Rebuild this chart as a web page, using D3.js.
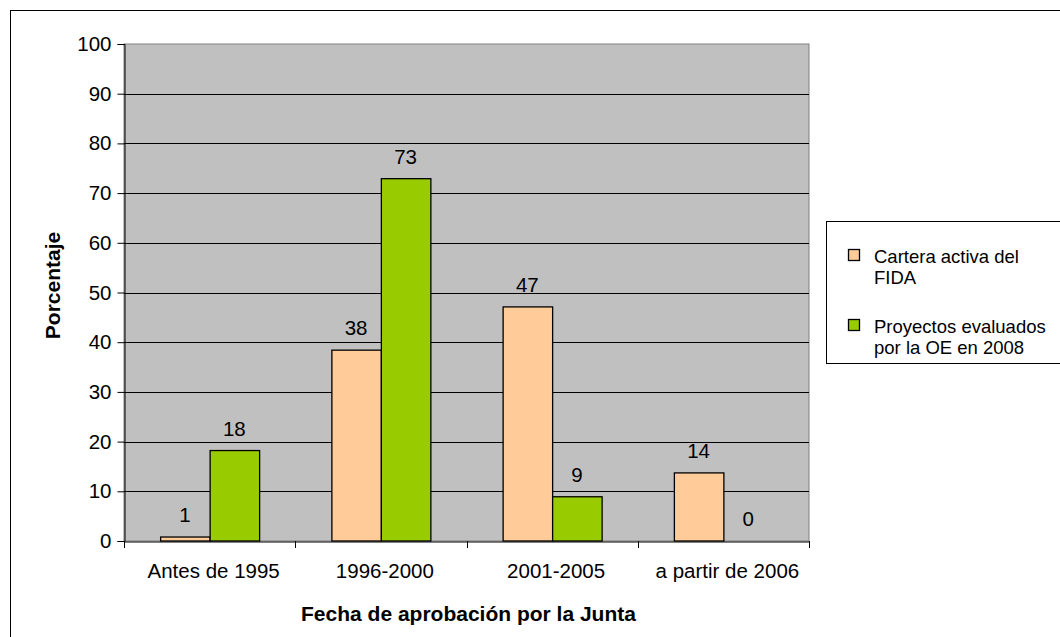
<!DOCTYPE html>
<html>
<head>
<meta charset="utf-8">
<script src="https://cdn.jsdelivr.net/npm/d3@7"></script>
<style>
  html, body { margin: 0; padding: 0; background: #fff; }
  svg { display: block; font-family: "Liberation Sans", Arial, sans-serif; }
</style>
</head>
<body>
<div id="chart"></div>
<script>
const categories = ["Antes de 1995", "1996-2000", "2001-2005", "a partir de 2006"];
const seriesNames = ["Cartera activa del FIDA", "Proyectos evaluados por la OE en 2008"];
const legendLines = [["Cartera activa del", "FIDA"], ["Proyectos evaluados", "por la OE en 2008"]];
const carteraValues = [0.8, 38.4, 47.1, 13.7];
const evaluadosValues = [18.2, 72.9, 8.9, 0];
const yTicks = [0, 10, 20, 30, 40, 50, 60, 70, 80, 90, 100];
const colors = ["#FFCC99", "#99CC00"];
const yTitle = "Porcentaje";
const xTitle = "Fecha de aprobación por la Junta";

const W = 1060, H = 637;
const plot = { left: 124, right: 809, top: 44, bottom: 541 };
const FS = "20.5px";

const svg = d3.select("#chart").append("svg").attr("width", W).attr("height", H);

// outer frame
svg.append("rect").attr("x", 10.5).attr("y", 10.5).attr("width", W + 20).attr("height", H + 20)
  .attr("fill", "#fff").attr("stroke", "#000").attr("stroke-width", 1);

const x0 = d3.scaleBand().domain(categories).range([plot.left, plot.right]).padding(0);
const x1 = d3.scaleBand().domain(seriesNames).range([0, x0.bandwidth()]).paddingInner(0).paddingOuter(0.73);
const y = d3.scaleLinear().domain([0, 100]).range([plot.bottom, plot.top]);

// plot background
svg.append("rect").attr("x", plot.left).attr("y", plot.top)
  .attr("width", plot.right - plot.left).attr("height", plot.bottom - plot.top)
  .attr("fill", "#C0C0C0").attr("stroke", "#808080").attr("stroke-width", 1);

// gridlines
svg.append("g").selectAll("line").data(yTicks.filter(t => t > 0 && t < 100)).join("line")
  .attr("x1", plot.left).attr("x2", plot.right)
  .attr("y1", d => Math.round(y(d)) + 0.5).attr("y2", d => Math.round(y(d)) + 0.5)
  .attr("stroke", "#000").attr("stroke-width", 1);

// y axis
const yAxis = svg.append("g").attr("transform", `translate(${plot.left + 0.5},0)`)
  .call(d3.axisLeft(y).tickValues(yTicks).tickSize(7).tickPadding(6).tickFormat(d3.format("d")));
yAxis.select(".domain").attr("stroke", "#000");
yAxis.selectAll(".tick line").attr("stroke", "#000");
yAxis.selectAll("text").attr("font-size", FS).attr("fill", "#000")
  .attr("font-family", "Liberation Sans, Arial, sans-serif");

// bars
const data = categories.map((c, i) => ({ cat: c, vals: [carteraValues[i], evaluadosValues[i]] }));
const groups = svg.append("g").selectAll("g").data(data).join("g")
  .attr("transform", d => `translate(${x0(d.cat)},0)`);
groups.selectAll("rect").data(d => d.vals.map((v, j) => ({ v, s: seriesNames[j], j })))
  .join("rect")
  .filter(d => d.v > 0)
  .attr("x", d => x1(d.s) + 0.5)
  .attr("y", d => y(d.v))
  .attr("width", x1.bandwidth())
  .attr("height", d => y(0) - y(d.v))
  .attr("fill", d => colors[d.j])
  .attr("stroke", "#000").attr("stroke-width", 1.3);

// data labels
const fmt = d3.format(".0f");
groups.selectAll("text").data(d => d.vals.map((v, j) => ({ v, s: seriesNames[j] })))
  .join("text")
  .attr("x", d => x1(d.s) + x1.bandwidth() / 2)
  .attr("y", d => y(d.v) - 15)
  .attr("text-anchor", "middle")
  .attr("font-size", FS).attr("fill", "#000")
  .text(d => fmt(d.v));

// x axis
const xAxis = svg.append("g").attr("transform", `translate(0,${plot.bottom + 0.5})`)
  .call(d3.axisBottom(x0).tickSize(0).tickPadding(22));
xAxis.select(".domain").attr("stroke", "#000");
xAxis.selectAll("text").attr("font-size", FS).attr("fill", "#000")
  .attr("dx", "4px")
  .attr("font-family", "Liberation Sans, Arial, sans-serif");
// tick marks at band boundaries
const boundaries = categories.map(c => x0(c)).concat([x0.range()[1]]);
svg.append("g").selectAll("line").data(boundaries).join("line")
  .attr("x1", d => Math.round(d) + 0.5).attr("x2", d => Math.round(d) + 0.5)
  .attr("y1", plot.bottom).attr("y2", plot.bottom + 7)
  .attr("stroke", "#000");

// axis titles
svg.append("text").attr("transform", `translate(60,${(plot.top + plot.bottom) / 2 - 7}) rotate(-90)`)
  .attr("text-anchor", "middle").attr("font-weight", "bold").attr("font-size", "21px")
  .text(yTitle);
svg.append("text").attr("x", (plot.left + plot.right) / 2 + 2).attr("y", 621)
  .attr("text-anchor", "middle").attr("font-weight", "bold").attr("font-size", "21px")
  .text(xTitle);

// legend
const lg = svg.append("g");
lg.append("rect").attr("x", 826.5).attr("y", 221.5).attr("width", 300).attr("height", 142)
  .attr("fill", "#fff").attr("stroke", "#000").attr("stroke-width", 1);
const items = lg.selectAll("g").data(seriesNames).join("g")
  .attr("transform", (d, i) => `translate(0,${i * 70})`);
items.append("rect").attr("x", 848.5).attr("y", 249.5).attr("width", 11).attr("height", 11)
  .attr("fill", (d, i) => colors[i]).attr("stroke", "#000").attr("stroke-width", 1.3);
items.append("text").attr("x", 874).attr("y", 263).attr("font-size", "18.5px").attr("fill", "#000")
  .selectAll("tspan").data((d, i) => legendLines[i]).join("tspan")
  .attr("x", 874).attr("dy", (d, k) => k === 0 ? 0 : 21).text(d => d);
</script>
</body>
</html>
